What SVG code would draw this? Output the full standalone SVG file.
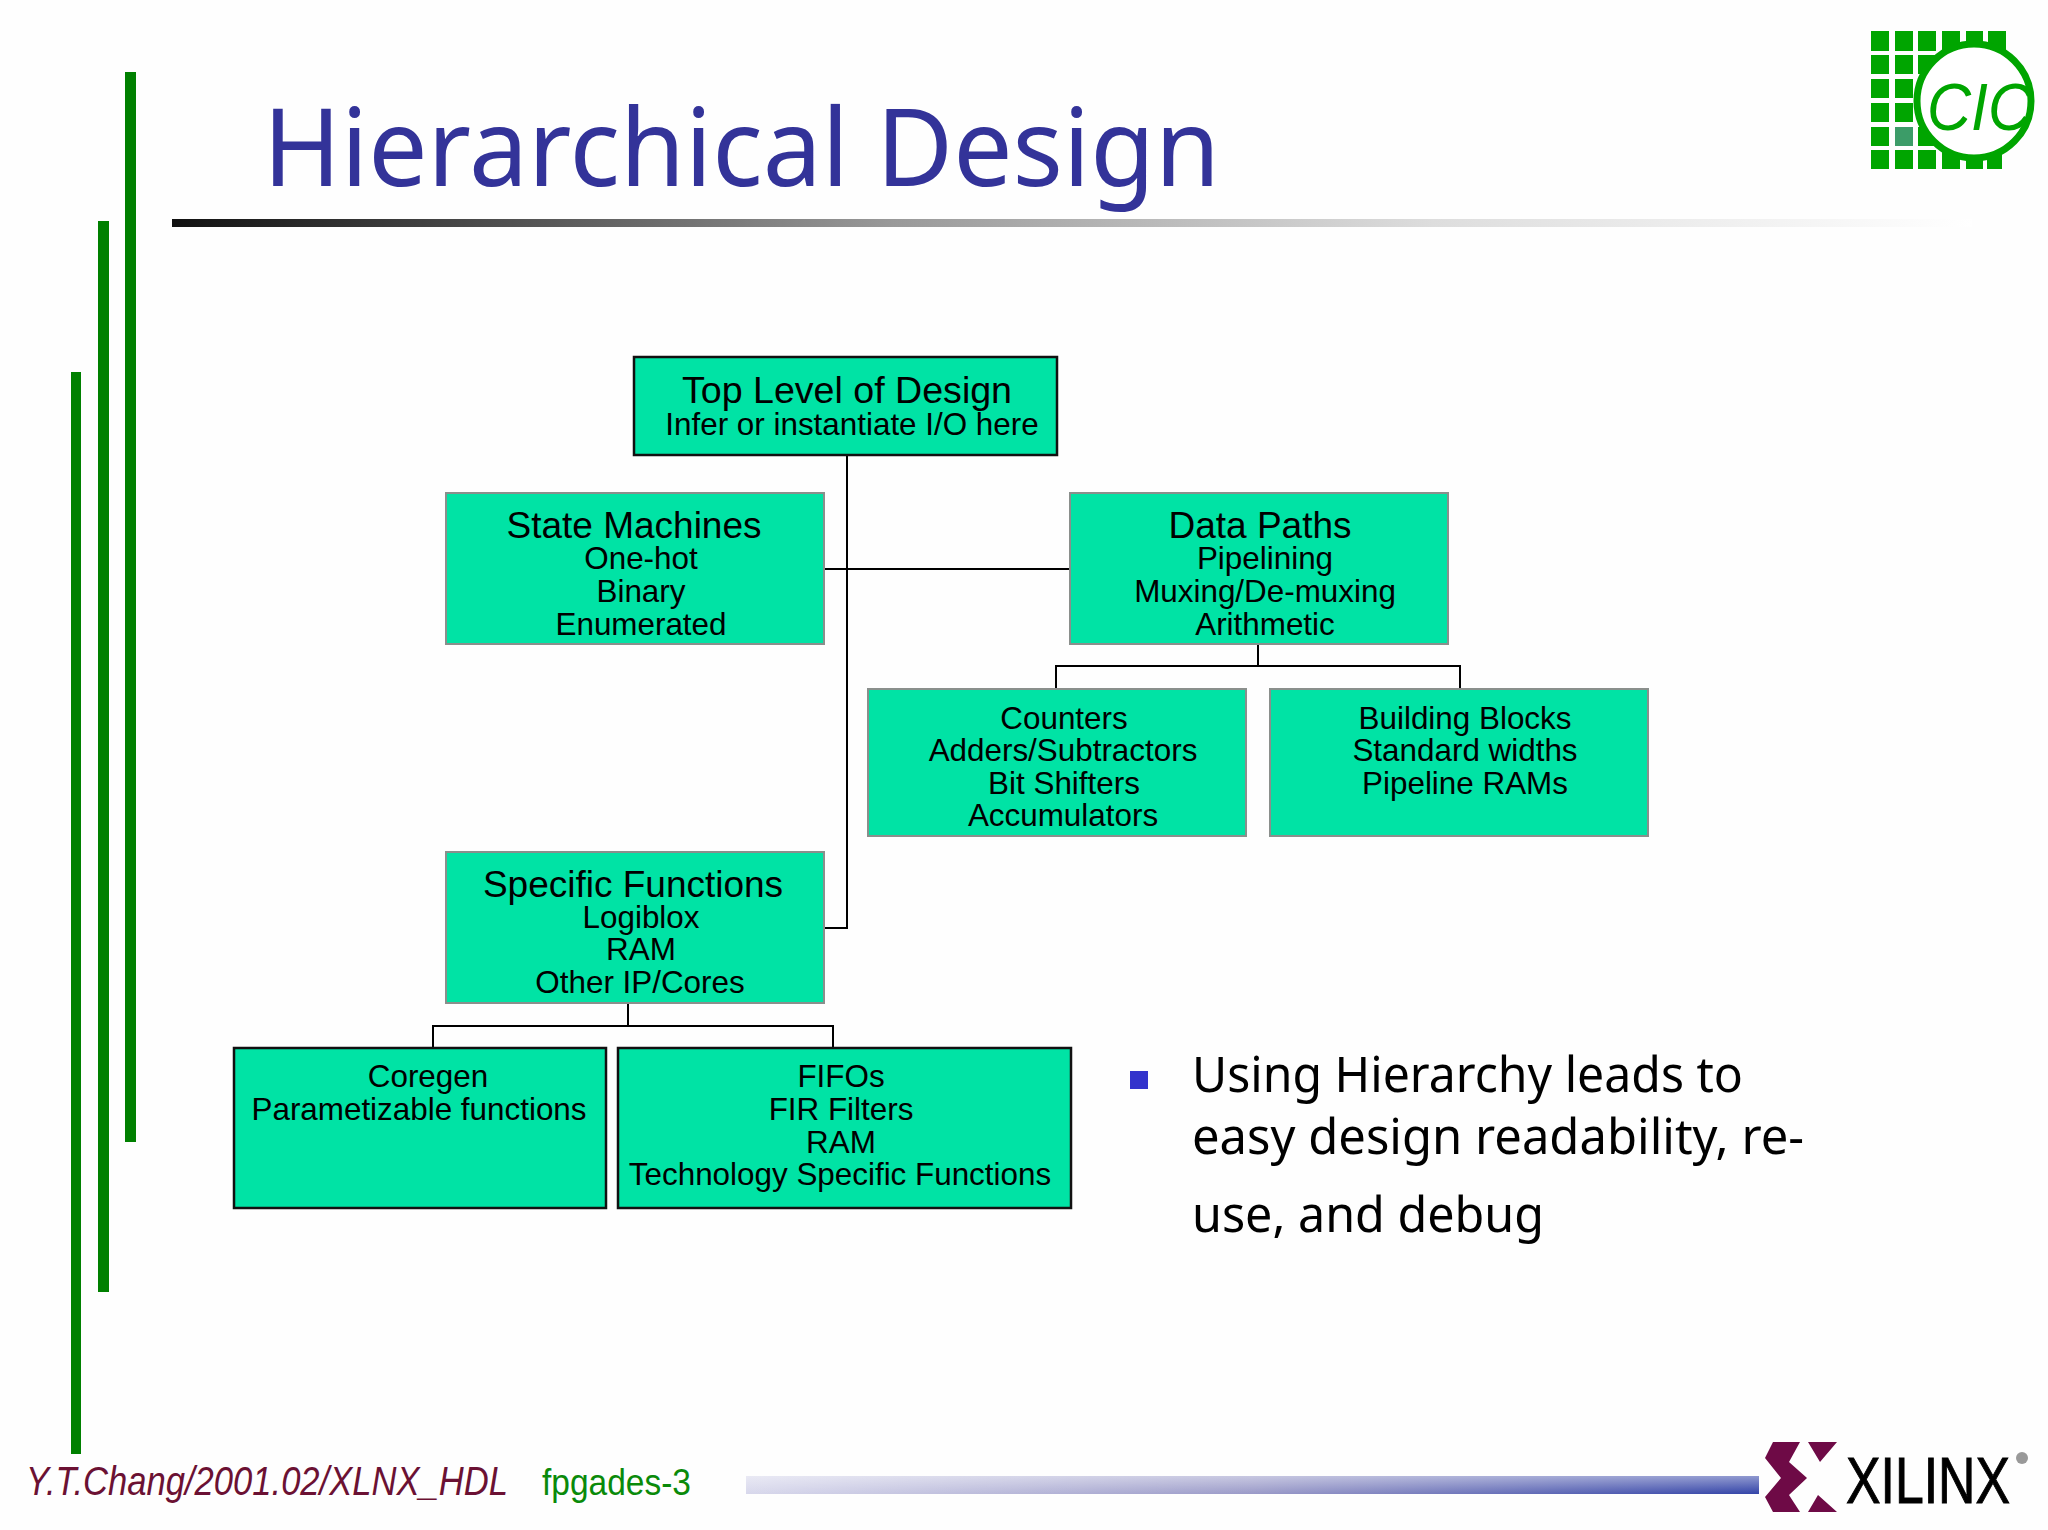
<svg xmlns="http://www.w3.org/2000/svg" width="2048" height="1530" viewBox="0 0 2048 1530">
<style>
.b{fill:#00e3a5;stroke:#8a8f8c;stroke-width:2}
.k{fill:#00e3a5;stroke:#111;stroke-width:2.5}
.h{font:37px "Liberation Sans",Arial,sans-serif;fill:#000;text-anchor:middle}
.s{font:31.4px "Liberation Sans",Arial,sans-serif;fill:#000;text-anchor:middle}
.c{fill:none;stroke:#000;stroke-width:2}
.g{fill:#00a500}
.bar{fill:#008000}
.t{font:50px "Noto Sans","Open Sans",sans-serif;fill:#000}
</style>
<defs>
<linearGradient id="r" x1="0" x2="1" y1="0" y2="0"><stop offset="0" stop-color="#111"/><stop offset="0.4" stop-color="#999"/><stop offset="0.7" stop-color="#ddd"/><stop offset="1" stop-color="#fff"/></linearGradient>
<linearGradient id="fb" x1="0" x2="1" y1="0" y2="0"><stop offset="0" stop-color="#d8d8ec"/><stop offset="0.5" stop-color="#9a9ac8"/><stop offset="1" stop-color="#3344a8"/></linearGradient>
<linearGradient id="fv" x1="0" x2="0" y1="0" y2="1"><stop offset="0" stop-color="#fff" stop-opacity="0.45"/><stop offset="1" stop-color="#fff" stop-opacity="0"/></linearGradient>
</defs>
<rect width="2048" height="1530" fill="#fefefe"/>
<rect class="bar" x="125" y="72" width="11" height="1070"/>
<rect class="bar" x="98" y="221" width="11" height="1071"/>
<rect class="bar" x="71" y="372" width="10" height="1082"/>
<text x="263" y="186" font-family="'Noto Sans','Open Sans',sans-serif" font-size="108" fill="#333399" textLength="957" lengthAdjust="spacingAndGlyphs">Hierarchical Design</text>
<rect x="172" y="219" width="1800" height="8" fill="url(#r)"/>
<g id="cic-logo">
<g class="g">
<path d="M1871 31h18v20h-18zM1895 31h18v20h-18zM1918 31h18v20h-18zM1942 31h18v20h-18zM1966 31h17v20h-17zM1988 31h18v20h-18z"/>
<path d="M1871 55h18v19h-18zM1895 55h18v19h-18zM1918 55h18v19h-18z"/>
<path d="M1871 79h18v19h-18zM1895 79h18v19h-18zM1918 79h18v19h-18z"/>
<path d="M1871 103h18v19h-18zM1895 103h18v19h-18zM1918 103h18v19h-18z"/>
<path d="M1871 127h18v19h-18zM1918 127h18v19h-18z"/>
<path d="M1871 150h18v19h-18zM1895 150h18v19h-18zM1918 150h18v19h-18zM1942 150h18v19h-18zM1966 150h17v19h-17zM1987 150h15v19h-15z"/>
</g>
<rect x="1895" y="127" width="18" height="19" fill="#3c9c68"/>
<circle cx="1974" cy="101" r="57" fill="#fff" stroke="#00a500" stroke-width="7"/>
<text x="1927" y="130" font-family="'Liberation Sans',sans-serif" font-style="italic" font-size="66" fill="#00a500" textLength="105" lengthAdjust="spacingAndGlyphs">CIC</text>
</g>
<g id="connectors">
<path class="c" d="M847 456V928H825M825 569H1069M1258 645V666H1460V688M1258 666H1056V688M628 1004V1026H833V1047M628 1026H433V1047"/>
</g>
<g id="top"><rect class="k" x="634" y="357" width="423" height="98"/><text class="h" style="font-size:37.6px" x="847" y="403">Top Level of Design</text><text class="s" x="852" y="435">Infer or instantiate I/O here</text></g>
<g id="state"><rect class="b" x="446" y="493" width="378" height="151"/><text class="h" x="634" y="538">State Machines</text><text class="s" x="641" y="569">One-hot</text><text class="s" x="641" y="602">Binary</text><text class="s" x="641" y="635">Enumerated</text></g>
<g id="data"><rect class="b" x="1070" y="493" width="378" height="151"/><text class="h" x="1260" y="538">Data Paths</text><text class="s" x="1265" y="569">Pipelining</text><text class="s" x="1265" y="602">Muxing/De-muxing</text><text class="s" x="1265" y="635">Arithmetic</text></g>
<g id="counters"><rect class="b" x="868" y="689" width="378" height="147"/><text class="s" x="1064" y="729">Counters</text><text class="s" x="1063" y="761">Adders/Subtractors</text><text class="s" x="1064" y="794">Bit Shifters</text><text class="s" x="1063" y="826">Accumulators</text></g>
<g id="blocks"><rect class="b" x="1270" y="689" width="378" height="147"/><text class="s" x="1465" y="729">Building Blocks</text><text class="s" x="1465" y="761">Standard widths</text><text class="s" x="1465" y="794">Pipeline RAMs</text></g>
<g id="specific"><rect class="b" x="446" y="852" width="378" height="151"/><text class="h" x="633" y="897">Specific Functions</text><text class="s" x="641" y="928">Logiblox</text><text class="s" x="641" y="960">RAM</text><text class="s" x="640" y="993">Other IP/Cores</text></g>
<g id="coregen"><rect class="k" x="234" y="1048" width="372" height="160"/><text class="s" x="428" y="1087">Coregen</text><text class="s" x="419" y="1120">Parametizable functions</text></g>
<g id="fifos"><rect class="k" x="618" y="1048" width="453" height="160"/><text class="s" x="841" y="1087">FIFOs</text><text class="s" x="841" y="1120">FIR Filters</text><text class="s" x="841" y="1153">RAM</text><text class="s" x="840" y="1185">Technology Specific Functions</text></g>
<g id="note">
<rect x="1130" y="1071" width="18" height="18" fill="#3333cc"/>
<text class="t" x="1192" y="1092" textLength="551" lengthAdjust="spacingAndGlyphs">Using Hierarchy leads to</text>
<text class="t" x="1192" y="1154" textLength="612" lengthAdjust="spacingAndGlyphs">easy design readability, re-</text>
<text class="t" x="1192" y="1232" textLength="352" lengthAdjust="spacingAndGlyphs">use, and debug</text>
</g>
<text x="26" y="1495" font-family="'Liberation Sans',sans-serif" font-style="italic" font-size="40" fill="#6b1133" textLength="482" lengthAdjust="spacingAndGlyphs">Y.T.Chang/2001.02/XLNX_HDL</text>
<text x="542" y="1495" font-family="'Liberation Sans',sans-serif" font-size="36" fill="#0a8a0a" textLength="149" lengthAdjust="spacingAndGlyphs">fpgades-3</text>
<rect x="746" y="1476" width="1013" height="18" fill="url(#fb)"/>
<rect x="746" y="1476" width="1013" height="18" fill="url(#fv)"/>
<g id="xilinx-logo">
<path fill="#6e0a46" d="M1773 1442H1800L1789 1462L1807 1478L1789 1495L1800 1512H1773L1765 1497L1781 1478L1765 1458ZM1808 1442H1837L1820 1462ZM1818 1495L1837 1512H1808Z"/>
<text x="1846" y="1503" font-family="'Liberation Sans',sans-serif" font-size="64" fill="#000" stroke="#000" stroke-width="1" textLength="164" lengthAdjust="spacingAndGlyphs">XILINX</text>
<circle cx="2022" cy="1458" r="6" fill="#999"/>
</g>
</svg>
